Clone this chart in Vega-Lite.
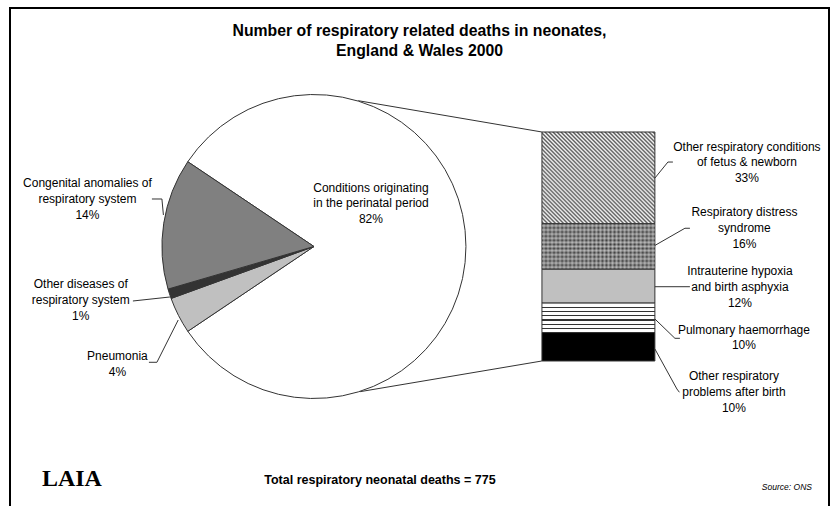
{
"$schema": "https://vega.github.io/schema/vega-lite/v6.json",
"width": 819, "height": 498,
"autosize": {"type": "none"},
"padding": {"left": 10, "top": 8, "right": 8, "bottom": 0},
"background": "white",
"title": {"text": ["Number of respiratory related deaths in neonates,", "England & Wales 2000"], "font": "Liberation Sans", "fontSize": 15.8, "fontWeight": "bold", "color": "#000", "anchor": "middle", "baseline": "top", "lineHeight": 20, "offset": -52},
"config": {
  "view": {"stroke": "#000", "strokeWidth": 2, "strokeDash": [1317, 819, 498], "fill": "white"},
  "text": {"font": "Liberation Sans", "fontSize": 12, "lineHeight": 15.8, "color": "#000", "align": "center", "baseline": "middle", "lineBreak": "\n"}
},
"datasets": {
  "pie": [
    {"panel": "All respiratory deaths", "cause": "Conditions originating in the perinatal period", "deaths": 629, "rank": 1, "label": "Conditions originating\nin the perinatal period\n82%"},
    {"panel": "All respiratory deaths", "cause": "Pneumonia", "deaths": 30, "rank": 2, "label": "Pneumonia\n4%"},
    {"panel": "All respiratory deaths", "cause": "Other diseases of respiratory system", "deaths": 8, "rank": 3, "label": "Other diseases of\nrespiratory system\n1%"},
    {"panel": "All respiratory deaths", "cause": "Congenital anomalies of respiratory system", "deaths": 108, "rank": 4, "label": "Congenital anomalies of\nrespiratory system\n14%"}
  ],
  "bar": [
    {"panel": "Conditions originating in the perinatal period", "cause": "Other respiratory problems after birth", "deaths": 78, "rank": 1, "label": "Other respiratory\nproblems after birth\n10%"},
    {"panel": "Conditions originating in the perinatal period", "cause": "Pulmonary haemorrhage", "deaths": 81, "rank": 2, "label": "Pulmonary haemorrhage\n10%"},
    {"panel": "Conditions originating in the perinatal period", "cause": "Intrauterine hypoxia and birth asphyxia", "deaths": 93, "rank": 3, "label": "Intrauterine hypoxia\nand birth asphyxia\n12%"},
    {"panel": "Conditions originating in the perinatal period", "cause": "Respiratory distress syndrome", "deaths": 125, "rank": 4, "label": "Respiratory distress\nsyndrome\n16%"},
    {"panel": "Conditions originating in the perinatal period", "cause": "Other respiratory conditions of fetus & newborn", "deaths": 252, "rank": 5, "label": "Other respiratory conditions\nof fetus & newborn\n33%"}
  ]
},
"layer": [
  {"data": {"name": "bar"}, "transform": [{"stack": "deaths", "groupby": [], "sort": [{"field": "rank", "order": "ascending"}], "as": ["y0", "y1"]}, {"filter": "datum.rank === 5"}],
   "mark": {"type": "rule", "stroke": "#333", "strokeWidth": 1, "xOffset": -240.2, "yOffset": -31.3, "x2Offset": -56.5},
   "encoding": {"x": {"field": "panel", "type": "nominal", "scale": {"domain": ["All respiratory deaths", "Conditions originating in the perinatal period"], "paddingInner": 0.603, "paddingOuter": 0.741, "align": 0.587}, "axis": null}, "x2": {"field": "panel"}, "y": {"field": "y1", "type": "quantitative", "scale": {"domain": [-398.3, 969.6], "nice": false, "zero": false}, "axis": null}, "y2": {"field": "y1"}}},
  {"data": {"name": "bar"}, "transform": [{"stack": "deaths", "groupby": [], "sort": [{"field": "rank", "order": "ascending"}], "as": ["y0", "y1"]}, {"filter": "datum.rank === 1"}],
   "mark": {"type": "rule", "stroke": "#333", "strokeWidth": 1, "xOffset": -238.5, "yOffset": 30.7, "x2Offset": -56.5},
   "encoding": {"x": {"field": "panel", "type": "nominal", "axis": null}, "x2": {"field": "panel"}, "y": {"field": "y0", "type": "quantitative", "axis": null}, "y2": {"field": "y0"}}},
  {"data": {"name": "pie"},
   "mark": {"type": "arc", "outerRadius": 152, "stroke": "#333", "strokeWidth": 1},
   "encoding": {
     "x": {"field": "panel", "type": "nominal", "axis": null},
     "y": {"value": {"expr": "scale('y', 314.5)"}},
     "theta": {"field": "deaths", "type": "quantitative", "stack": true, "scale": {"range": [-0.979, 5.304]}},
     "order": {"field": "rank", "type": "quantitative"},
     "fill": {"field": "cause", "type": "nominal", "scale": {"domain": ["Conditions originating in the perinatal period", "Pneumonia", "Other diseases of respiratory system", "Congenital anomalies of respiratory system"], "range": ["#ffffff", "#c0c0c0", "#333333", "#808080"]}, "legend": null}}},
  {"data": {"name": "pie"}, "transform": [{"filter": "datum.rank === 1"}],
   "mark": {"type": "text", "dx": 57, "dy": -58.8},
   "encoding": {"x": {"field": "panel", "type": "nominal", "axis": null}, "y": {"datum": 314.5, "type": "quantitative", "axis": null}, "text": {"field": "label", "type": "nominal"}}},
  {"data": {"name": "pie"}, "transform": [{"filter": "datum.rank === 2"}],
   "mark": {"type": "text", "dx": -196.5, "dy": 109.3},
   "encoding": {"x": {"field": "panel", "type": "nominal", "axis": null}, "y": {"datum": 314.5, "type": "quantitative", "axis": null}, "text": {"field": "label", "type": "nominal"}}},
  {"data": {"name": "pie"}, "transform": [{"filter": "datum.rank === 3"}],
   "mark": {"type": "text", "dx": -233.2, "dy": 37.7},
   "encoding": {"x": {"field": "panel", "type": "nominal", "axis": null}, "y": {"datum": 314.5, "type": "quantitative", "axis": null}, "text": {"field": "label", "type": "nominal"}}},
  {"data": {"name": "pie"}, "transform": [{"filter": "datum.rank === 4"}],
   "mark": {"type": "text", "dx": -226.5, "dy": -63.3},
   "encoding": {"x": {"field": "panel", "type": "nominal", "axis": null}, "y": {"datum": 314.5, "type": "quantitative", "axis": null}, "text": {"field": "label", "type": "nominal"}}},
  {"data": {"name": "bar"}, "transform": [{"stack": "deaths", "groupby": [], "sort": [{"field": "rank", "order": "ascending"}], "as": ["y0", "y1"]}, {"filter": "datum.rank === 1"}],
   "mark": {"type": "rule", "stroke": "#333", "strokeWidth": 1, "xOffset": -446.5, "yOffset": -162, "x2Offset": -436.5, "y2Offset": -162},
   "encoding": {"x": {"field": "panel", "type": "nominal", "axis": null}, "x2": {"field": "panel"}, "y": {"field": "y0", "type": "quantitative", "axis": null}, "y2": {"field": "y0"}}},
  {"data": {"name": "bar"}, "transform": [{"stack": "deaths", "groupby": [], "sort": [{"field": "rank", "order": "ascending"}], "as": ["y0", "y1"]}, {"filter": "datum.rank === 1"}],
   "mark": {"type": "rule", "stroke": "#333", "strokeWidth": 1, "xOffset": -436.5, "yOffset": -162, "x2Offset": -435, "y2Offset": -146},
   "encoding": {"x": {"field": "panel", "type": "nominal", "axis": null}, "x2": {"field": "panel"}, "y": {"field": "y0", "type": "quantitative", "axis": null}, "y2": {"field": "y0"}}},
  {"data": {"name": "bar"}, "transform": [{"stack": "deaths", "groupby": [], "sort": [{"field": "rank", "order": "ascending"}], "as": ["y0", "y1"]}, {"filter": "datum.rank === 1"}],
   "mark": {"type": "rule", "stroke": "#333", "strokeWidth": 1, "xOffset": -465.5, "yOffset": -60, "x2Offset": -428.5, "y2Offset": -64},
   "encoding": {"x": {"field": "panel", "type": "nominal", "axis": null}, "x2": {"field": "panel"}, "y": {"field": "y0", "type": "quantitative", "axis": null}, "y2": {"field": "y0"}}},
  {"data": {"name": "bar"}, "transform": [{"stack": "deaths", "groupby": [], "sort": [{"field": "rank", "order": "ascending"}], "as": ["y0", "y1"]}, {"filter": "datum.rank === 1"}],
   "mark": {"type": "rule", "stroke": "#333", "strokeWidth": 1, "xOffset": -449.5, "yOffset": 1.3, "x2Offset": -441.5, "y2Offset": 1.3},
   "encoding": {"x": {"field": "panel", "type": "nominal", "axis": null}, "x2": {"field": "panel"}, "y": {"field": "y0", "type": "quantitative", "axis": null}, "y2": {"field": "y0"}}},
  {"data": {"name": "bar"}, "transform": [{"stack": "deaths", "groupby": [], "sort": [{"field": "rank", "order": "ascending"}], "as": ["y0", "y1"]}, {"filter": "datum.rank === 1"}],
   "mark": {"type": "rule", "stroke": "#333", "strokeWidth": 1, "xOffset": -441.5, "yOffset": 1.3, "x2Offset": -420.2, "y2Offset": -41},
   "encoding": {"x": {"field": "panel", "type": "nominal", "axis": null}, "x2": {"field": "panel"}, "y": {"field": "y0", "type": "quantitative", "axis": null}, "y2": {"field": "y0"}}},
  {"data": {"name": "bar"}, "transform": [{"stack": "deaths", "groupby": [], "sort": [{"field": "rank", "order": "ascending"}], "as": ["y0", "y1"]}, {"filter": "datum.rank === 5"}],
   "mark": {"type": "bar", "stroke": "#333", "strokeWidth": 1, "fill": {"gradient": "linear", "x1": 0, "y1": 1, "x2": 1.095, "y2": 0.118, "stops": [
     {"offset":0,"color":"#fff"},{"offset":0.0098,"color":"#555"},{"offset":0.0196,"color":"#fff"},{"offset":0.0294,"color":"#555"},{"offset":0.0392,"color":"#fff"},{"offset":0.049,"color":"#555"},{"offset":0.0588,"color":"#fff"},{"offset":0.0686,"color":"#555"},{"offset":0.0784,"color":"#fff"},{"offset":0.0882,"color":"#555"},{"offset":0.098,"color":"#fff"},{"offset":0.1078,"color":"#555"},{"offset":0.1176,"color":"#fff"},{"offset":0.1275,"color":"#555"},{"offset":0.1373,"color":"#fff"},{"offset":0.1471,"color":"#555"},{"offset":0.1569,"color":"#fff"},{"offset":0.1667,"color":"#555"},{"offset":0.1765,"color":"#fff"},{"offset":0.1863,"color":"#555"},{"offset":0.1961,"color":"#fff"},{"offset":0.2059,"color":"#555"},{"offset":0.2157,"color":"#fff"},{"offset":0.2255,"color":"#555"},{"offset":0.2353,"color":"#fff"},{"offset":0.2451,"color":"#555"},{"offset":0.2549,"color":"#fff"},{"offset":0.2647,"color":"#555"},{"offset":0.2745,"color":"#fff"},{"offset":0.2843,"color":"#555"},{"offset":0.2941,"color":"#fff"},{"offset":0.3039,"color":"#555"},{"offset":0.3137,"color":"#fff"},{"offset":0.3235,"color":"#555"},{"offset":0.3333,"color":"#fff"},{"offset":0.3431,"color":"#555"},{"offset":0.3529,"color":"#fff"},{"offset":0.3627,"color":"#555"},{"offset":0.3725,"color":"#fff"},{"offset":0.3824,"color":"#555"},{"offset":0.3922,"color":"#fff"},{"offset":0.402,"color":"#555"},{"offset":0.4118,"color":"#fff"},{"offset":0.4216,"color":"#555"},{"offset":0.4314,"color":"#fff"},{"offset":0.4412,"color":"#555"},{"offset":0.451,"color":"#fff"},{"offset":0.4608,"color":"#555"},{"offset":0.4706,"color":"#fff"},{"offset":0.4804,"color":"#555"},{"offset":0.4902,"color":"#fff"},{"offset":0.5,"color":"#555"},{"offset":0.5098,"color":"#fff"},{"offset":0.5196,"color":"#555"},{"offset":0.5294,"color":"#fff"},{"offset":0.5392,"color":"#555"},{"offset":0.549,"color":"#fff"},{"offset":0.5588,"color":"#555"},{"offset":0.5686,"color":"#fff"},{"offset":0.5784,"color":"#555"},{"offset":0.5882,"color":"#fff"},{"offset":0.598,"color":"#555"},{"offset":0.6078,"color":"#fff"},{"offset":0.6176,"color":"#555"},{"offset":0.6275,"color":"#fff"},{"offset":0.6373,"color":"#555"},{"offset":0.6471,"color":"#fff"},{"offset":0.6569,"color":"#555"},{"offset":0.6667,"color":"#fff"},{"offset":0.6765,"color":"#555"},{"offset":0.6863,"color":"#fff"},{"offset":0.6961,"color":"#555"},{"offset":0.7059,"color":"#fff"},{"offset":0.7157,"color":"#555"},{"offset":0.7255,"color":"#fff"},{"offset":0.7353,"color":"#555"},{"offset":0.7451,"color":"#fff"},{"offset":0.7549,"color":"#555"},{"offset":0.7647,"color":"#fff"},{"offset":0.7745,"color":"#555"},{"offset":0.7843,"color":"#fff"},{"offset":0.7941,"color":"#555"},{"offset":0.8039,"color":"#fff"},{"offset":0.8137,"color":"#555"},{"offset":0.8235,"color":"#fff"},{"offset":0.8333,"color":"#555"},{"offset":0.8431,"color":"#fff"},{"offset":0.8529,"color":"#555"},{"offset":0.8627,"color":"#fff"},{"offset":0.8725,"color":"#555"},{"offset":0.8824,"color":"#fff"},{"offset":0.8922,"color":"#555"},{"offset":0.902,"color":"#fff"},{"offset":0.9118,"color":"#555"},{"offset":0.9216,"color":"#fff"},{"offset":0.9314,"color":"#555"},{"offset":0.9412,"color":"#fff"},{"offset":0.951,"color":"#555"},{"offset":0.9608,"color":"#fff"},{"offset":0.9706,"color":"#555"},{"offset":0.9804,"color":"#fff"},{"offset":0.9902,"color":"#555"},{"offset":1,"color":"#fff"}]}},
   "encoding": {"x": {"field": "panel", "type": "nominal", "axis": null}, "y": {"field": "y0", "type": "quantitative", "axis": null}, "y2": {"field": "y1"}}},
  {"data": {"name": "bar"}, "transform": [{"stack": "deaths", "groupby": [], "sort": [{"field": "rank", "order": "ascending"}], "as": ["y0", "y1"]}, {"filter": "datum.rank === 4"}],
   "mark": {"type": "bar", "stroke": "#333", "strokeWidth": 1, "fill": {"gradient": "linear", "x1": 0, "y1": 0, "x2": 1, "y2": 0, "stops": [
     {"offset":0,"color":"#3a3a3a"},{"offset":0.0179,"color":"#8a8a8a"},{"offset":0.0357,"color":"#3a3a3a"},{"offset":0.0536,"color":"#8a8a8a"},{"offset":0.0714,"color":"#3a3a3a"},{"offset":0.0893,"color":"#8a8a8a"},{"offset":0.1071,"color":"#3a3a3a"},{"offset":0.125,"color":"#8a8a8a"},{"offset":0.1429,"color":"#3a3a3a"},{"offset":0.1607,"color":"#8a8a8a"},{"offset":0.1786,"color":"#3a3a3a"},{"offset":0.1964,"color":"#8a8a8a"},{"offset":0.2143,"color":"#3a3a3a"},{"offset":0.2321,"color":"#8a8a8a"},{"offset":0.25,"color":"#3a3a3a"},{"offset":0.2679,"color":"#8a8a8a"},{"offset":0.2857,"color":"#3a3a3a"},{"offset":0.3036,"color":"#8a8a8a"},{"offset":0.3214,"color":"#3a3a3a"},{"offset":0.3393,"color":"#8a8a8a"},{"offset":0.3571,"color":"#3a3a3a"},{"offset":0.375,"color":"#8a8a8a"},{"offset":0.3929,"color":"#3a3a3a"},{"offset":0.4107,"color":"#8a8a8a"},{"offset":0.4286,"color":"#3a3a3a"},{"offset":0.4464,"color":"#8a8a8a"},{"offset":0.4643,"color":"#3a3a3a"},{"offset":0.4821,"color":"#8a8a8a"},{"offset":0.5,"color":"#3a3a3a"},{"offset":0.5179,"color":"#8a8a8a"},{"offset":0.5357,"color":"#3a3a3a"},{"offset":0.5536,"color":"#8a8a8a"},{"offset":0.5714,"color":"#3a3a3a"},{"offset":0.5893,"color":"#8a8a8a"},{"offset":0.6071,"color":"#3a3a3a"},{"offset":0.625,"color":"#8a8a8a"},{"offset":0.6429,"color":"#3a3a3a"},{"offset":0.6607,"color":"#8a8a8a"},{"offset":0.6786,"color":"#3a3a3a"},{"offset":0.6964,"color":"#8a8a8a"},{"offset":0.7143,"color":"#3a3a3a"},{"offset":0.7321,"color":"#8a8a8a"},{"offset":0.75,"color":"#3a3a3a"},{"offset":0.7679,"color":"#8a8a8a"},{"offset":0.7857,"color":"#3a3a3a"},{"offset":0.8036,"color":"#8a8a8a"},{"offset":0.8214,"color":"#3a3a3a"},{"offset":0.8393,"color":"#8a8a8a"},{"offset":0.8571,"color":"#3a3a3a"},{"offset":0.875,"color":"#8a8a8a"},{"offset":0.8929,"color":"#3a3a3a"},{"offset":0.9107,"color":"#8a8a8a"},{"offset":0.9286,"color":"#3a3a3a"},{"offset":0.9464,"color":"#8a8a8a"},{"offset":0.9643,"color":"#3a3a3a"},{"offset":0.9821,"color":"#8a8a8a"},{"offset":1,"color":"#3a3a3a"}]}},
   "encoding": {"x": {"field": "panel", "type": "nominal", "axis": null}, "y": {"field": "y0", "type": "quantitative", "axis": null}, "y2": {"field": "y1"}}},
  {"data": {"name": "bar"}, "transform": [{"stack": "deaths", "groupby": [], "sort": [{"field": "rank", "order": "ascending"}], "as": ["y0", "y1"]}, {"filter": "datum.rank === 4"}],
   "mark": {"type": "bar", "strokeWidth": 0, "fill": {"gradient": "linear", "x1": 0, "y1": 0, "x2": 0, "y2": 1, "stops": [
     {"offset":0,"color":"rgba(255,255,255,0)"},{"offset":0.0455,"color":"rgba(255,255,255,0.45)"},{"offset":0.0909,"color":"rgba(255,255,255,0)"},{"offset":0.1364,"color":"rgba(255,255,255,0.45)"},{"offset":0.1818,"color":"rgba(255,255,255,0)"},{"offset":0.2273,"color":"rgba(255,255,255,0.45)"},{"offset":0.2727,"color":"rgba(255,255,255,0)"},{"offset":0.3182,"color":"rgba(255,255,255,0.45)"},{"offset":0.3636,"color":"rgba(255,255,255,0)"},{"offset":0.4091,"color":"rgba(255,255,255,0.45)"},{"offset":0.4545,"color":"rgba(255,255,255,0)"},{"offset":0.5,"color":"rgba(255,255,255,0.45)"},{"offset":0.5455,"color":"rgba(255,255,255,0)"},{"offset":0.5909,"color":"rgba(255,255,255,0.45)"},{"offset":0.6364,"color":"rgba(255,255,255,0)"},{"offset":0.6818,"color":"rgba(255,255,255,0.45)"},{"offset":0.7273,"color":"rgba(255,255,255,0)"},{"offset":0.7727,"color":"rgba(255,255,255,0.45)"},{"offset":0.8182,"color":"rgba(255,255,255,0)"},{"offset":0.8636,"color":"rgba(255,255,255,0.45)"},{"offset":0.9091,"color":"rgba(255,255,255,0)"},{"offset":0.9545,"color":"rgba(255,255,255,0.45)"},{"offset":1,"color":"rgba(255,255,255,0)"}]}},
   "encoding": {"x": {"field": "panel", "type": "nominal", "axis": null}, "y": {"field": "y0", "type": "quantitative", "axis": null}, "y2": {"field": "y1"}}},
  {"data": {"name": "bar"}, "transform": [{"stack": "deaths", "groupby": [], "sort": [{"field": "rank", "order": "ascending"}], "as": ["y0", "y1"]}, {"filter": "datum.rank === 3"}],
   "mark": {"type": "bar", "stroke": "#333", "strokeWidth": 1, "fill": "#c0c0c0"},
   "encoding": {"x": {"field": "panel", "type": "nominal", "axis": null}, "y": {"field": "y0", "type": "quantitative", "axis": null}, "y2": {"field": "y1"}}},
  {"data": {"name": "bar"}, "transform": [{"stack": "deaths", "groupby": [], "sort": [{"field": "rank", "order": "ascending"}], "as": ["y0", "y1"]}, {"filter": "datum.rank === 2"}],
   "mark": {"type": "bar", "stroke": "#333", "strokeWidth": 1, "fill": {"gradient": "linear", "x1": 0, "y1": 0, "x2": 0, "y2": 1, "stops": [
     {"offset":0,"color":"#fff"},{"offset":0.1229,"color":"#fff"},{"offset":0.1229,"color":"#333"},{"offset":0.1629,"color":"#333"},{"offset":0.1629,"color":"#fff"},{"offset":0.2657,"color":"#fff"},{"offset":0.2657,"color":"#333"},{"offset":0.3057,"color":"#333"},{"offset":0.3057,"color":"#fff"},{"offset":0.4086,"color":"#fff"},{"offset":0.4086,"color":"#333"},{"offset":0.4486,"color":"#333"},{"offset":0.4486,"color":"#fff"},{"offset":0.5514,"color":"#fff"},{"offset":0.5514,"color":"#333"},{"offset":0.5914,"color":"#333"},{"offset":0.5914,"color":"#fff"},{"offset":0.6943,"color":"#fff"},{"offset":0.6943,"color":"#333"},{"offset":0.7343,"color":"#333"},{"offset":0.7343,"color":"#fff"},{"offset":0.8371,"color":"#fff"},{"offset":0.8371,"color":"#333"},{"offset":0.8771,"color":"#333"},{"offset":0.8771,"color":"#fff"},{"offset":1,"color":"#fff"}]}},
   "encoding": {"x": {"field": "panel", "type": "nominal", "axis": null}, "y": {"field": "y0", "type": "quantitative", "axis": null}, "y2": {"field": "y1"}}},
  {"data": {"name": "bar"}, "transform": [{"stack": "deaths", "groupby": [], "sort": [{"field": "rank", "order": "ascending"}], "as": ["y0", "y1"]}, {"filter": "datum.rank === 1"}],
   "mark": {"type": "bar", "stroke": "#333", "strokeWidth": 1, "fill": "#000"},
   "encoding": {"x": {"field": "panel", "type": "nominal", "axis": null}, "y": {"field": "y0", "type": "quantitative", "axis": null}, "y2": {"field": "y1"}}},
  {"data": {"name": "bar"}, "transform": [{"stack": "deaths", "groupby": [], "sort": [{"field": "rank", "order": "ascending"}], "as": ["y0", "y1"]}, {"filter": "datum.rank === 5"}],
   "mark": {"type": "text", "dx": 148.5, "dy": -77.2},
   "encoding": {"x": {"field": "panel", "type": "nominal", "axis": null}, "y": {"field": "y0", "type": "quantitative", "axis": null}, "text": {"field": "label", "type": "nominal"}}},
  {"data": {"name": "bar"}, "transform": [{"stack": "deaths", "groupby": [], "sort": [{"field": "rank", "order": "ascending"}], "as": ["y0", "y1"]}, {"filter": "datum.rank === 4"}],
   "mark": {"type": "text", "dx": 146, "dy": -56.8},
   "encoding": {"x": {"field": "panel", "type": "nominal", "axis": null}, "y": {"field": "y0", "type": "quantitative", "axis": null}, "text": {"field": "label", "type": "nominal"}}},
  {"data": {"name": "bar"}, "transform": [{"stack": "deaths", "groupby": [], "sort": [{"field": "rank", "order": "ascending"}], "as": ["y0", "y1"]}, {"filter": "datum.rank === 3"}],
   "mark": {"type": "text", "dx": 141.5, "dy": -32.2},
   "encoding": {"x": {"field": "panel", "type": "nominal", "axis": null}, "y": {"field": "y0", "type": "quantitative", "axis": null}, "text": {"field": "label", "type": "nominal"}}},
  {"data": {"name": "bar"}, "transform": [{"stack": "deaths", "groupby": [], "sort": [{"field": "rank", "order": "ascending"}], "as": ["y0", "y1"]}, {"filter": "datum.rank === 2"}],
   "mark": {"type": "text", "dx": 145.5, "dy": -3},
   "encoding": {"x": {"field": "panel", "type": "nominal", "axis": null}, "y": {"field": "y0", "type": "quantitative", "axis": null}, "text": {"field": "label", "type": "nominal"}}},
  {"data": {"name": "bar"}, "transform": [{"stack": "deaths", "groupby": [], "sort": [{"field": "rank", "order": "ascending"}], "as": ["y0", "y1"]}, {"filter": "datum.rank === 1"}],
   "mark": {"type": "text", "dx": 135.5, "dy": 15.5},
   "encoding": {"x": {"field": "panel", "type": "nominal", "axis": null}, "y": {"field": "y0", "type": "quantitative", "axis": null}, "text": {"field": "label", "type": "nominal"}}},
  {"data": {"name": "bar"}, "transform": [{"stack": "deaths", "groupby": [], "sort": [{"field": "rank", "order": "ascending"}], "as": ["y0", "y1"]}, {"filter": "datum.rank === 5"}],
   "mark": {"type": "rule", "stroke": "#333", "strokeWidth": 1, "xOffset": 56.5, "yOffset": -45.7, "x2Offset": 69.5, "y2Offset": -61.7},
   "encoding": {"x": {"field": "panel", "type": "nominal", "axis": null}, "x2": {"field": "panel"}, "y": {"field": "y0", "type": "quantitative", "axis": null}, "y2": {"field": "y0"}}},
  {"data": {"name": "bar"}, "transform": [{"stack": "deaths", "groupby": [], "sort": [{"field": "rank", "order": "ascending"}], "as": ["y0", "y1"]}, {"filter": "datum.rank === 5"}],
   "mark": {"type": "rule", "stroke": "#333", "strokeWidth": 1, "xOffset": 69.5, "yOffset": -61.7, "x2Offset": 74.5, "y2Offset": -61.7},
   "encoding": {"x": {"field": "panel", "type": "nominal", "axis": null}, "x2": {"field": "panel"}, "y": {"field": "y0", "type": "quantitative", "axis": null}, "y2": {"field": "y0"}}},
  {"data": {"name": "bar"}, "transform": [{"stack": "deaths", "groupby": [], "sort": [{"field": "rank", "order": "ascending"}], "as": ["y0", "y1"]}, {"filter": "datum.rank === 4"}],
   "mark": {"type": "rule", "stroke": "#333", "strokeWidth": 1, "xOffset": 56.5, "yOffset": -23.8, "x2Offset": 86.5, "y2Offset": -41},
   "encoding": {"x": {"field": "panel", "type": "nominal", "axis": null}, "x2": {"field": "panel"}, "y": {"field": "y0", "type": "quantitative", "axis": null}, "y2": {"field": "y0"}}},
  {"data": {"name": "bar"}, "transform": [{"stack": "deaths", "groupby": [], "sort": [{"field": "rank", "order": "ascending"}], "as": ["y0", "y1"]}, {"filter": "datum.rank === 4"}],
   "mark": {"type": "rule", "stroke": "#333", "strokeWidth": 1, "xOffset": 86.5, "yOffset": -41, "x2Offset": 91.5, "y2Offset": -41},
   "encoding": {"x": {"field": "panel", "type": "nominal", "axis": null}, "x2": {"field": "panel"}, "y": {"field": "y0", "type": "quantitative", "axis": null}, "y2": {"field": "y0"}}},
  {"data": {"name": "bar"}, "transform": [{"stack": "deaths", "groupby": [], "sort": [{"field": "rank", "order": "ascending"}], "as": ["y0", "y1"]}, {"filter": "datum.rank === 3"}],
   "mark": {"type": "rule", "stroke": "#333", "strokeWidth": 1, "xOffset": 56.5, "yOffset": -16.4, "x2Offset": 91.5, "y2Offset": -16.4},
   "encoding": {"x": {"field": "panel", "type": "nominal", "axis": null}, "x2": {"field": "panel"}, "y": {"field": "y0", "type": "quantitative", "axis": null}, "y2": {"field": "y0"}}},
  {"data": {"name": "bar"}, "transform": [{"stack": "deaths", "groupby": [], "sort": [{"field": "rank", "order": "ascending"}], "as": ["y0", "y1"]}, {"filter": "datum.rank === 2"}],
   "mark": {"type": "rule", "stroke": "#333", "strokeWidth": 1, "xOffset": 56.5, "yOffset": -13.6, "x2Offset": 76.5, "y2Offset": 5.7},
   "encoding": {"x": {"field": "panel", "type": "nominal", "axis": null}, "x2": {"field": "panel"}, "y": {"field": "y0", "type": "quantitative", "axis": null}, "y2": {"field": "y0"}}},
  {"data": {"name": "bar"}, "transform": [{"stack": "deaths", "groupby": [], "sort": [{"field": "rank", "order": "ascending"}], "as": ["y0", "y1"]}, {"filter": "datum.rank === 2"}],
   "mark": {"type": "rule", "stroke": "#333", "strokeWidth": 1, "xOffset": 76.5, "yOffset": 5.7, "x2Offset": 81.5, "y2Offset": 5.7},
   "encoding": {"x": {"field": "panel", "type": "nominal", "axis": null}, "x2": {"field": "panel"}, "y": {"field": "y0", "type": "quantitative", "axis": null}, "y2": {"field": "y0"}}},
  {"data": {"name": "bar"}, "transform": [{"stack": "deaths", "groupby": [], "sort": [{"field": "rank", "order": "ascending"}], "as": ["y0", "y1"]}, {"filter": "datum.rank === 1"}],
   "mark": {"type": "rule", "stroke": "#333", "strokeWidth": 1, "xOffset": 56.5, "yOffset": -12, "x2Offset": 78.5, "y2Offset": 28},
   "encoding": {"x": {"field": "panel", "type": "nominal", "axis": null}, "x2": {"field": "panel"}, "y": {"field": "y0", "type": "quantitative", "axis": null}, "y2": {"field": "y0"}}},
  {"data": {"name": "bar"}, "transform": [{"stack": "deaths", "groupby": [], "sort": [{"field": "rank", "order": "ascending"}], "as": ["y0", "y1"]}, {"filter": "datum.rank === 1"}],
   "mark": {"type": "rule", "stroke": "#333", "strokeWidth": 1, "xOffset": 78.5, "yOffset": 28, "x2Offset": 81, "y2Offset": 31.3},
   "encoding": {"x": {"field": "panel", "type": "nominal", "axis": null}, "x2": {"field": "panel"}, "y": {"field": "y0", "type": "quantitative", "axis": null}, "y2": {"field": "y0"}}},
  {"data": {"values": [{}]},
   "mark": {"type": "text", "text": "Total respiratory neonatal deaths = 775", "fontWeight": "bold", "fontSize": 12.5, "dx": 66, "dy": 233.5},
   "encoding": {"x": {"datum": "All respiratory deaths", "type": "nominal", "axis": null}, "y": {"datum": 314.5, "type": "quantitative", "axis": null}}},
  {"data": {"values": [{}]},
   "mark": {"type": "text", "text": "Source: ONS", "fontStyle": "italic", "fontSize": 8.5, "align": "right", "dx": 498, "dy": 240.5},
   "encoding": {"x": {"datum": "All respiratory deaths", "type": "nominal", "axis": null}, "y": {"datum": 314.5, "type": "quantitative", "axis": null}}},
  {"data": {"values": [{}]},
   "mark": {"type": "text", "text": "LAIA", "font": "Liberation Serif", "fontWeight": "bold", "fontSize": 24, "dx": -242, "dy": 232.5},
   "encoding": {"x": {"datum": "All respiratory deaths", "type": "nominal", "axis": null}, "y": {"datum": 314.5, "type": "quantitative", "axis": null}}}
]
}
